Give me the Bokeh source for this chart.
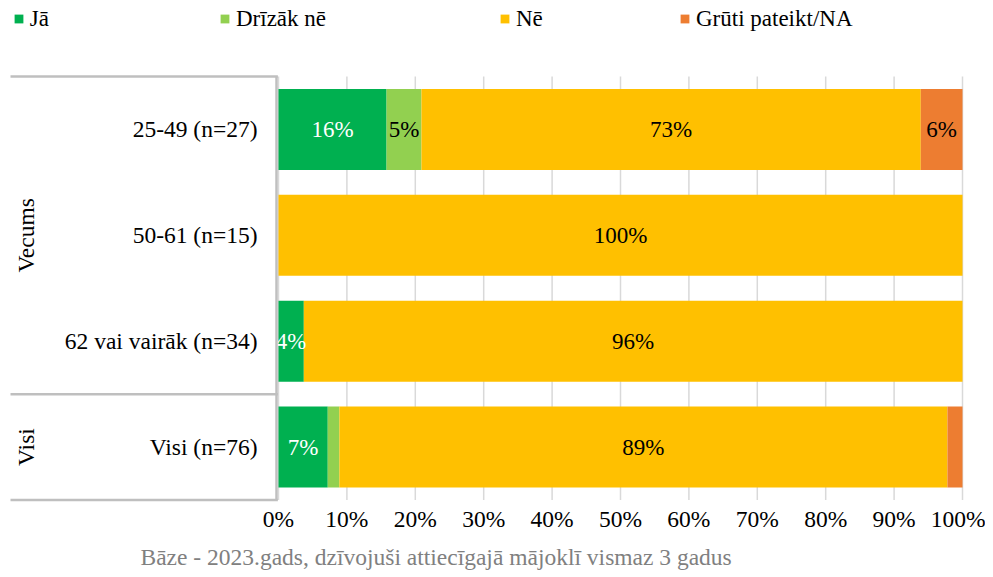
import math
from bokeh.plotting import figure
from bokeh.models import Range1d, FixedTicker, Legend, LegendItem, Title, ColumnDataSource
from bokeh.embed import file_html
from bokeh.resources import INLINE
from bokeh.core.properties import value

# ---------------- data ----------------
categories = ["25-49 (n=27)", "50-61 (n=15)", "62 vai vairāk (n=34)", "Visi (n=76)"]
groups = ["Vecums", "Visi"]
group_sizes = [3, 1]
series = ["Jā", "Drīzāk nē", "Nē", "Grūti pateikt/NA"]
ja = [15.8, 0.0, 3.7, 7.2]
drizak_ne = [5.1, 0.0, 0.0, 1.7]
ne = [73.0, 100.0, 96.3, 88.9]
gruti = [6.1, 0.0, 0.0, 2.2]
x_ticks = [0, 10, 20, 30, 40, 50, 60, 70, 80, 90, 100]
x_tick_labels = ["0%", "10%", "20%", "30%", "40%", "50%", "60%", "70%", "80%", "90%", "100%"]
footer = "Bāze - 2023.gads, dzīvojuši attiecīgajā mājoklī vismaz 3 gadus"

# ---------------- style / layout ----------------
colors = ["#00B050", "#92D050", "#FFC000", "#ED7D31"]
label_colors = ["white", "black", "black", "black"]
FONT = "Liberation Serif"
W, H = 985, 577
BOTTOM = 74                 # border below the frame (axis + footer)
PLOT_LEFT = 278             # px of 0%
PLOT_W = 684                # px from 0% to 100%
PLOT_TOP = 76               # px of the top of the chart box
PLOT_BOT = 499.5            # px of the bottom of the chart box
n = len(categories)
PXU = PLOT_W / 100.0
PYU = (PLOT_BOT - PLOT_TOP) / n
frame_bottom = H - BOTTOM

x_range = Range1d(-PLOT_LEFT / PXU, (W - PLOT_LEFT) / PXU)
y_range = Range1d(-(frame_bottom - PLOT_BOT) / PYU, n + PLOT_TOP / PYU)

ys = [n - i - 0.5 for i in range(n)]
keys = ["ja", "drizak", "ne", "gruti"]
vals = [ja, drizak_ne, ne, gruti]
src = ColumnDataSource(dict(y=ys, ja=ja, drizak=drizak_ne, ne=ne, gruti=gruti))

p = figure(width=W, height=H, x_range=x_range, y_range=y_range, title=None,
           output_backend="svg", toolbar_location=None,
           min_border_left=0, min_border_right=0, min_border_top=0, min_border_bottom=BOTTOM)
p.outline_line_color = None
p.yaxis.visible = False
p.xgrid.visible = False
p.ygrid.visible = False

# vertical grid lines inside the chart box
p.segment(x0=x_ticks, x1=x_ticks, y0=[0] * len(x_ticks), y1=[n] * len(x_ticks),
          line_color="#D9D9D9", line_width=1.5)

rends = p.hbar_stack(keys, y="y", height=0.765, color=colors, source=src, line_color=None)

# value labels
lx, ly, lt, lc = [], [], [], []
for r in range(n):
    cum = 0.0
    for s in range(len(keys)):
        v = vals[s][r]
        if v >= 3:
            lx.append(cum + v / 2)
            ly.append(ys[r])
            lt.append(f"{round(v)}%")
            lc.append(label_colors[s])
        cum += v
p.text(x=lx, y=ly, text=lt, text_color=lc, text_align="center", text_baseline="middle",
       text_font=value(FONT), text_font_size="23px")

# category labels
p.text(x=[0] * n, y=ys, text=categories, x_offset=-21, text_align="right",
       text_baseline="middle", text_font=value(FONT), text_font_size="23.5px", text_color="black")

# left box: vertical line + group boundaries
bounds = [0]
for g in reversed(group_sizes):
    bounds.append(bounds[-1] + g)
box_left = -(PLOT_LEFT - 10) / PXU
box_right = -2 / PXU
p.segment(x0=[box_left] * len(bounds), x1=[box_right + 0.2] * len(bounds), y0=bounds, y1=bounds,
          line_color="#BFBFBF", line_width=2.5)
p.segment(x0=[box_right], x1=[box_right], y0=[0], y1=[n], line_color="#BFBFBF", line_width=2.5)

# group labels (rotated)
gy, top = [], n
for size in group_sizes:
    gy.append(top - size / 2)
    top -= size
p.text(x=[-(PLOT_LEFT - 25) / PXU] * len(groups), y=gy, text=groups, angle=math.pi / 2,
       text_align="center", text_baseline="middle", text_font=value(FONT),
       text_font_size="23.5px", text_color="black")

# x axis
p.xaxis.ticker = FixedTicker(ticks=x_ticks)
p.xaxis.major_label_overrides = {t: l for t, l in zip(x_ticks, x_tick_labels)}
p.xaxis.axis_line_color = None
p.xaxis.major_tick_line_color = None
p.xaxis.minor_tick_line_color = None
p.xaxis.major_tick_out = 0
p.xaxis.major_tick_in = 0
p.xaxis.major_label_text_font = FONT
p.xaxis.major_label_text_font_size = "23.5px"
p.xaxis.major_label_text_color = "black"
p.xaxis.major_label_standoff = 2

# footer
p.add_layout(Title(text=footer, align="left", offset=140, standoff=15, text_font=FONT,
                   text_font_size="23.5px", text_font_style="normal", text_color="#808080"), "below")

# legends
leg_x = [12.7, 219, 499, 679]
for i, (name, r) in enumerate(zip(series, rends)):
    leg = Legend(items=[LegendItem(label=name, renderers=[r])], location=(leg_x[i], frame_bottom - 31.5),
                 orientation="horizontal", glyph_width=11, glyph_height=11, label_standoff=6,
                 padding=0, margin=0, border_line_color=None, background_fill_alpha=0,
                 label_text_font=FONT, label_text_font_size="23px", label_text_color="black")
    p.add_layout(leg)

open("out.html", "w").write(file_html(p, INLINE))
